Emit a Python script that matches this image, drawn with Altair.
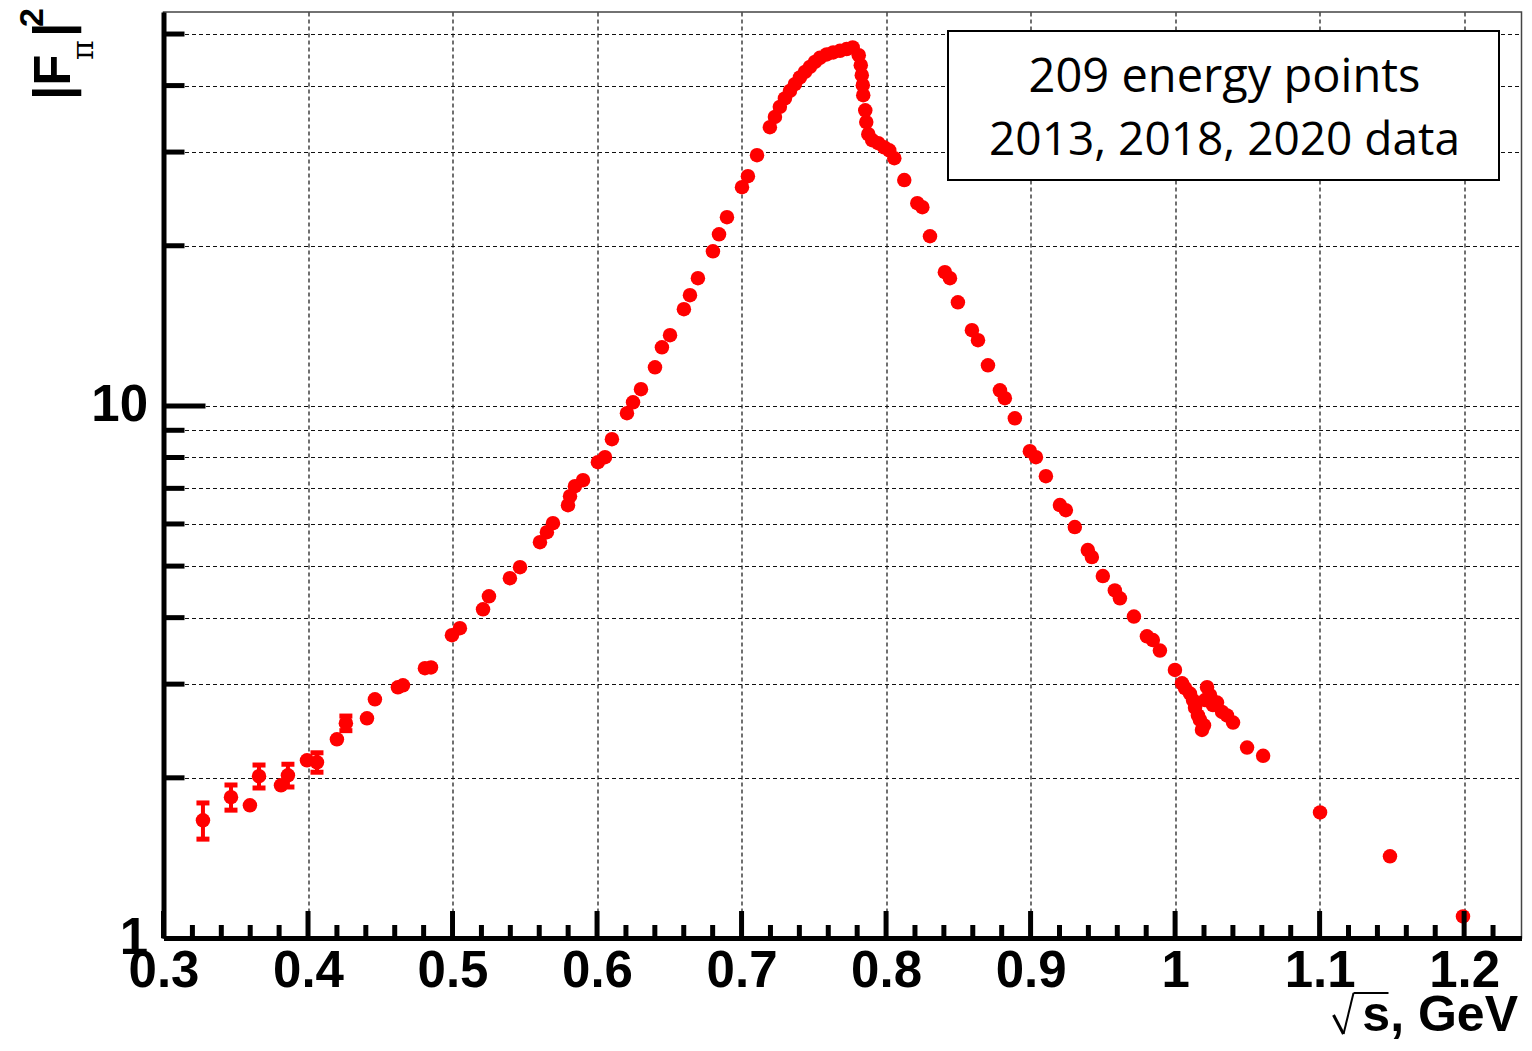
import altair as alt
import pandas as pd

# sqrt(s), GeV
energy = [0.3273, 0.3467, 0.3598, 0.3661, 0.3813, 0.3861, 0.3993, 0.4062, 0.4200, 0.4262,
          0.4408, 0.4463, 0.4622, 0.4657, 0.4809, 0.4851, 0.4996, 0.5051, 0.5211, 0.5252,
          0.5397, 0.5467, 0.5605, 0.5653, 0.5695, 0.5799, 0.5813, 0.5847, 0.5903, 0.6006,
          0.6055, 0.6103, 0.6207, 0.6249, 0.6304, 0.6401, 0.6449, 0.6505, 0.6601, 0.6643,
          0.6698, 0.6802, 0.6844, 0.6899, 0.7003, 0.7044, 0.7107, 0.7196, 0.7231, 0.7265,
          0.7300, 0.7335, 0.7369, 0.7404, 0.7439, 0.7473, 0.7508, 0.7542, 0.7589, 0.7634,
          0.7681, 0.7727, 0.7769, 0.7811, 0.7825, 0.7832, 0.7839, 0.7842, 0.7856, 0.7863,
          0.7877, 0.7904, 0.7946, 0.7987, 0.8022, 0.8057, 0.8126, 0.8216, 0.8251, 0.8304,
          0.8407, 0.8442, 0.8497, 0.8594, 0.8636, 0.8705, 0.8788, 0.8822, 0.8891, 0.8995,
          0.9037, 0.9106, 0.9203, 0.9244, 0.9306, 0.9396, 0.9424, 0.9500, 0.9583, 0.9618,
          0.9715, 0.9805, 0.9846, 0.9895, 0.9999, 1.0048, 1.0069, 1.0103, 1.0124, 1.0138,
          1.0158, 1.0172, 1.0186, 1.0200, 1.0207, 1.0221, 1.0242, 1.0262, 1.0290, 1.0325,
          1.0359, 1.0401, 1.0498, 1.0609, 1.1003, 1.1487, 1.1992]

# |F_pi|^2
ff2 = [1.664, 1.839, 1.776, 2.014, 1.936, 2.022, 2.158, 2.139, 2.363, 2.533,
       2.588, 2.810, 2.959, 2.985, 3.214, 3.224, 3.707, 3.821, 4.148, 4.388,
       4.745, 4.976, 5.544, 5.789, 6.019, 6.507, 6.766, 7.066, 7.251, 7.840,
       8.011, 8.659, 9.689, 10.16, 10.75, 11.82, 12.89, 13.58, 15.20, 16.15,
       17.38, 19.53, 21.02, 22.63, 25.77, 27.03, 29.59, 33.41, 34.93, 36.48,
       37.83, 39.09, 40.24, 41.43, 42.44, 43.37, 44.32, 45.10, 45.77, 46.17,
       46.49, 46.84, 47.18, 45.63, 43.70, 41.84, 40.08, 38.37, 35.95, 34.15,
       32.42, 31.58, 31.17, 30.63, 30.23, 29.21, 26.57, 24.04, 23.63, 20.84,
       17.84, 17.38, 15.66, 13.88, 13.29, 11.92, 10.70, 10.34, 9.48, 8.22,
       8.01, 7.38, 6.51, 6.37, 5.92, 5.36, 5.20, 4.79, 4.50, 4.35,
       4.02, 3.69, 3.63, 3.47, 3.19, 3.01, 2.95, 2.88, 2.80, 2.71,
       2.62, 2.57, 2.46, 2.51, 2.80, 2.96, 2.86, 2.74, 2.77, 2.66,
       2.62, 2.54, 2.28, 2.20, 1.722, 1.424, 1.098]

# visible errors (first low-energy points)
err_energy = [0.3273, 0.3467, 0.3661, 0.3861, 0.4062, 0.4262]
err_val = [0.13, 0.10, 0.10, 0.10, 0.09, 0.08]

x_major = [0.3, 0.4, 0.5, 0.6, 0.7, 0.8, 0.9, 1.0, 1.1, 1.2]
x_minor = [0.32, 0.34, 0.36, 0.38, 0.42, 0.44, 0.46, 0.48, 0.52, 0.54, 0.56, 0.58,
           0.62, 0.64, 0.66, 0.68, 0.72, 0.74, 0.76, 0.78, 0.82, 0.84, 0.86, 0.88,
           0.92, 0.94, 0.96, 0.98, 1.02, 1.04, 1.06, 1.08, 1.12, 1.14, 1.16, 1.18,
           1.22]
y_minor = [2, 3, 4, 5, 6, 7, 8, 9, 20, 30, 40, 50]
y_major = [10]
y_axis_vals = [1, 2, 3, 4, 5, 6, 7, 8, 9, 10, 20, 30, 40, 50]

W, H = 1358, 926
RED = "#ff0000"
xs = alt.Scale(domain=[0.3, 1.2397], nice=False, zero=False)
ys = alt.Scale(type="log", domain=[1, 55], nice=False)

df = pd.DataFrame({"s": energy, "f": ff2})
de = pd.DataFrame({"s": err_energy,
                   "f": [ff2[energy.index(e)] for e in err_energy],
                   "e": err_val})
de["lo"] = de["f"] - de["e"]
de["hi"] = de["f"] + de["e"]

xaxis = alt.Axis(values=x_major, format="~g", grid=True, gridDash=[4, 3],
                 gridColor="#111111", gridWidth=1.2, ticks=False, domain=True,
                 domainColor="black", domainWidth=5, labelFont="Liberation Sans",
                 labelFontWeight="bold", labelFontSize=51, labelColor="black",
                 labelPadding=8, labelFlush=False, labelOverlap=False, title=None)
yaxis = alt.Axis(values=y_axis_vals,
                 labelExpr="(datum.value == 1 || datum.value == 10) ? format(datum.value, 'd') : ''",
                 grid=True, gridDash=[4, 3], gridColor="#111111", gridWidth=1.2,
                 ticks=False, domain=True, domainColor="black", domainWidth=5,
                 labelFont="Liberation Sans", labelFontWeight="bold", labelFontSize=51,
                 labelColor="black", labelPadding=16, labelOverlap=False,
                 labelFlush=False, title=None)

points = alt.Chart(df).mark_circle(size=210, color=RED, opacity=1).encode(
    x=alt.X("s:Q", scale=xs, axis=xaxis),
    y=alt.Y("f:Q", scale=ys, axis=yaxis),
)

ebars = alt.Chart(de).mark_rule(color=RED, strokeWidth=4, opacity=1).encode(
    x=alt.X("s:Q", scale=xs), y=alt.Y("lo:Q", scale=ys), y2="hi:Q")
caps_lo = alt.Chart(de).mark_tick(color=RED, thickness=5, size=13, orient="horizontal",
                                  opacity=1).encode(
    x=alt.X("s:Q", scale=xs), y=alt.Y("lo:Q", scale=ys))
caps_hi = alt.Chart(de).mark_tick(color=RED, thickness=5, size=13, orient="horizontal",
                                  opacity=1).encode(
    x=alt.X("s:Q", scale=xs), y=alt.Y("hi:Q", scale=ys))

xt_minor = alt.Chart(pd.DataFrame({"v": x_minor})).mark_rule(color="black", strokeWidth=5).encode(
    x=alt.X("v:Q", scale=xs), y=alt.value(H), y2=alt.value(H - 13))
xt_major = alt.Chart(pd.DataFrame({"v": x_major})).mark_rule(color="black", strokeWidth=5).encode(
    x=alt.X("v:Q", scale=xs), y=alt.value(H), y2=alt.value(H - 27))
yt_minor = alt.Chart(pd.DataFrame({"v": y_minor})).mark_rule(color="black", strokeWidth=5).encode(
    y=alt.Y("v:Q", scale=ys), x=alt.value(0), x2=alt.value(21))
yt_major = alt.Chart(pd.DataFrame({"v": y_major})).mark_rule(color="black", strokeWidth=5).encode(
    y=alt.Y("v:Q", scale=ys), x=alt.value(0), x2=alt.value(42))

# legend box
box = alt.Chart(pd.DataFrame({"a": [0]})).mark_rect(fill="white", stroke="black", strokeWidth=2).encode(
    x=alt.value(784.5), x2=alt.value(1335.5), y=alt.value(19), y2=alt.value(168))
legend_lines = ["209 energy points", "2013, 2018, 2020 data"]
leg1 = alt.Chart(pd.DataFrame({"t": [legend_lines[0]]})).mark_text(
    font="Open Sans", fontSize=47, align="center", baseline="alphabetic", color="black").encode(
    x=alt.value(1061), y=alt.value(80), text="t:N")
leg2 = alt.Chart(pd.DataFrame({"t": [legend_lines[1]]})).mark_text(
    font="Open Sans", fontSize=46, align="center", baseline="alphabetic", color="black").encode(
    x=alt.value(1061), y=alt.value(143), text="t:N")

# x title: sqrt sign drawn with strokes + "s, GeV"
xt1 = alt.Chart(pd.DataFrame({"t": ["s, GeV"]})).mark_text(
    font="Liberation Sans", fontWeight="bold", fontSize=50, align="right", baseline="alphabetic",
    color="black").encode(x=alt.value(1354.5), y=alt.value(1019), text="t:N")
rad_a = alt.Chart(pd.DataFrame({"a": [0]})).mark_rule(color="black", strokeWidth=3).encode(
    x=alt.value(1170), y=alt.value(1003), x2=alt.value(1180), y2=alt.value(1022))
rad_b = alt.Chart(pd.DataFrame({"a": [0]})).mark_rule(color="black", strokeWidth=2).encode(
    x=alt.value(1180), y=alt.value(1022), x2=alt.value(1190), y2=alt.value(981))
rad_c = alt.Chart(pd.DataFrame({"a": [0]})).mark_rule(color="black", strokeWidth=2).encode(
    x=alt.value(1190), x2=alt.value(1225), y=alt.value(981))

# y title  |F_pi|^2 (rotated)
yt1 = alt.Chart(pd.DataFrame({"t": ["|F"]})).mark_text(
    font="Liberation Sans", fontWeight="bold", fontSize=51, angle=270, align="left",
    baseline="alphabetic", color="black").encode(x=alt.value(-93.5), y=alt.value(88), text="t:N")
yt2 = alt.Chart(pd.DataFrame({"t": ["\u03c0"]})).mark_text(
    font="DejaVu Serif", fontSize=30, angle=270, align="left",
    baseline="alphabetic", color="black").encode(x=alt.value(-70.5), y=alt.value(48), text="t:N")
yt3 = alt.Chart(pd.DataFrame({"t": ["|"]})).mark_text(
    font="Liberation Sans", fontWeight="bold", fontSize=51, angle=270, align="left",
    baseline="alphabetic", color="black").encode(x=alt.value(-93.5), y=alt.value(25), text="t:N")
yt4 = alt.Chart(pd.DataFrame({"t": ["2"]})).mark_text(
    font="Liberation Sans", fontWeight="bold", fontSize=34, angle=270, align="left",
    baseline="alphabetic", color="black").encode(x=alt.value(-120.5), y=alt.value(15), text="t:N")

chart = alt.layer(
    points, ebars, caps_lo, caps_hi, xt_minor, xt_major, yt_minor, yt_major,
    box, leg1, leg2, xt1, rad_a, rad_b, rad_c, yt1, yt2, yt3, yt4
).properties(
    width=W, height=H,
    autosize=alt.AutoSizeParams(type="none"),
    padding={"left": 155.5, "top": 4, "right": 2, "bottom": 104},
    background="white",
).configure_view(stroke="#444444", strokeWidth=1.5)

chart.save("out.html", embed_options={"renderer": "svg", "actions": False})
